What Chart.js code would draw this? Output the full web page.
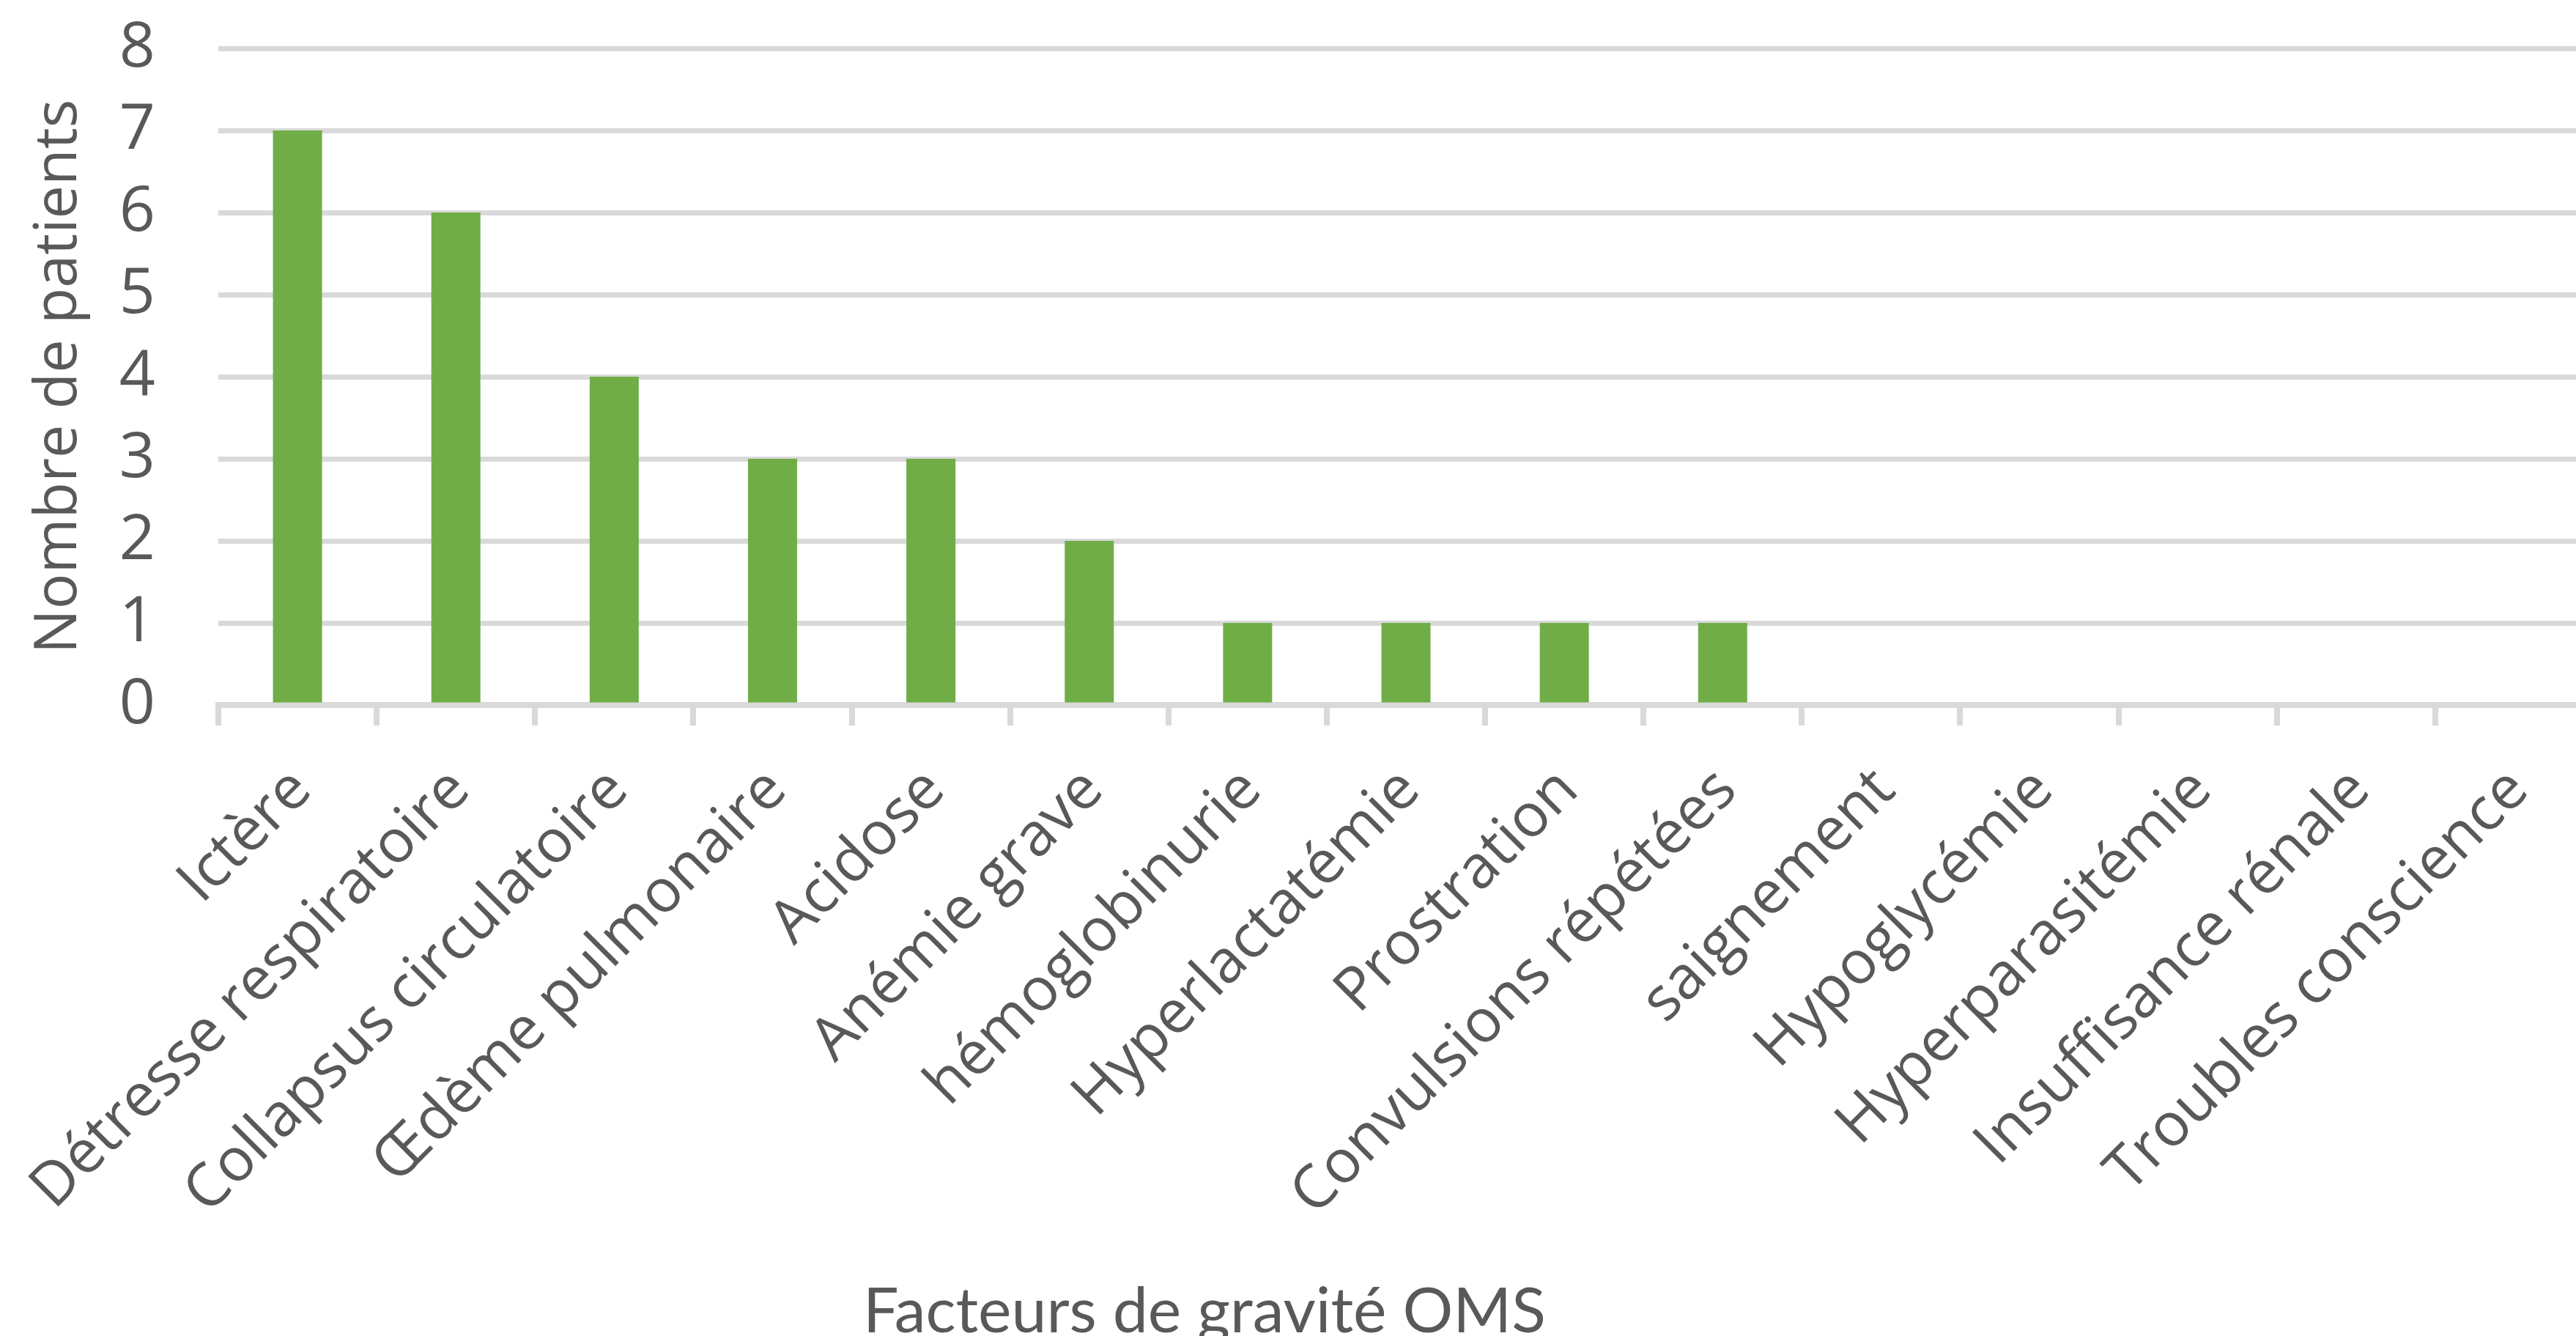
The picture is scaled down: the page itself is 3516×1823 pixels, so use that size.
<html>
<head>
<title>Facteurs de gravité OMS</title>
<style>
  body { margin: 0; background: #fff; overflow: hidden; }
  #wrap { position: relative; width: 3516px; height: 1823px; overflow: hidden; }
  #xtitle { position: absolute; left: 1644px; top: 1784px; transform: translate(-50%, -50%);
            font-family: Lato, "Open Sans", sans-serif; font-size: 86px; color: #595959; white-space: nowrap; }
</style>
</head>
<body>
<script src="https://cdn.jsdelivr.net/npm/chart.js@4.4.1/dist/chart.umd.min.js"></script>

<div id="wrap">
  <canvas id="myChart" width="3560" height="1823"></canvas>
  <div id="xtitle">Facteurs de gravité OMS</div>
</div>

<script type="text/javascript">
var categories = ["Ictère", "Détresse respiratoire", "Collapsus circulatoire", "Œdème pulmonaire",
                  "Acidose", "Anémie grave", "hémoglobinurie", "Hyperlactatémie", "Prostration",
                  "Convulsions répétées", "saignement", "Hypoglycémie", "Hyperparasitémie",
                  "Insuffisance rénale", "Troubles conscience"];
var patients = [7, 6, 4, 3, 3, 2, 1, 1, 1, 1, 0, 0, 0, 0, 0];
var yTicks = [0, 1, 2, 3, 4, 5, 6, 7, 8];

var textColor = "#595959";
var gridColor = "#d9d9d9";

var ctx = document.getElementById("myChart").getContext("2d");

var myChart = new Chart(ctx, {
    type: 'bar',
    data: {
        labels: categories,
        datasets: [{
            label: "Nombre de patients",
            data: patients,
            backgroundColor: "#70ad47",
            borderWidth: 0,
            categoryPercentage: 1,
            barPercentage: 0.31
        }]
    },
    options: {
        responsive: false,
        devicePixelRatio: 1,
        animation: false,
        layout: { padding: { left: 0, right: 20, top: 66, bottom: 0 } },
        plugins: {
            legend: { display: false },
            tooltip: { enabled: false }
        },
        scales: {
            x: {
                grid: {
                    offset: true,
                    drawOnChartArea: false,
                    drawTicks: true,
                    tickLength: 28,
                    color: gridColor,
                    lineWidth: 8
                },
                border: { display: true, color: gridColor, width: 8 },
                ticks: {
                    autoSkip: false,
                    minRotation: 45,
                    maxRotation: 45,
                    padding: 40,
                    labelOffset: 6,
                    color: textColor,
                    font: { family: "'Open Sans', sans-serif", size: 82 }
                },
                afterFit: function (scale) {
                    scale.height = 1823 - 962;
                    scale.paddingTop = 0;
                    scale.paddingBottom = 0;
                }
            },
            y: {
                min: yTicks[0],
                max: yTicks[yTicks.length - 1],
                afterBuildTicks: function (scale) {
                    scale.ticks = yTicks.map(function (v) { return {value: v}; });
                },
                grid: { color: gridColor, lineWidth: 7, drawTicks: false },
                border: { display: false },
                ticks: {
                    autoSkip: false,
                    padding: 86,
                    color: textColor,
                    font: { family: "'Open Sans', sans-serif", size: 86 }
                },
                title: {
                    display: true,
                    text: "Nombre de patients",
                    color: textColor,
                    padding: { top: 32, bottom: 0 },
                    font: { family: "'Open Sans', sans-serif", size: 81 }
                },
                afterFit: function (scale) {
                    scale.width = 298;
                    scale.paddingTop = 0;
                    scale.paddingBottom = 0;
                }
            }
        }
    }
});
</script>
</body>
</html>
